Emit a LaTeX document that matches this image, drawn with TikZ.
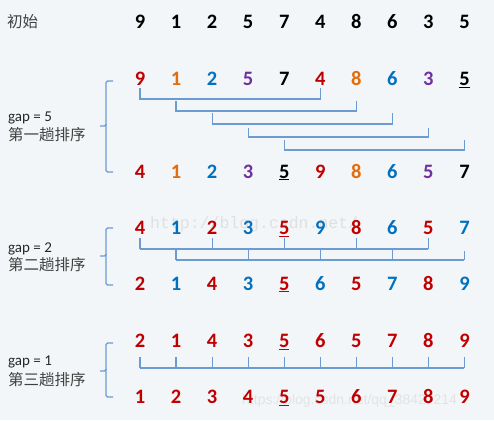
\documentclass[tikz,border=0pt]{standalone}
\usepackage{fontspec}
\setmainfont{Carlito}
\newfontfamily\cjk{Noto Sans CJK SC}
\newfontfamily\wmmono{Liberation Mono}
\newfontfamily\wmsans{Liberation Sans}
\definecolor{bg}{HTML}{F3F6F8}
\definecolor{R}{HTML}{C00000}
\definecolor{O}{HTML}{E46C0A}
\definecolor{B}{HTML}{0070C0}
\definecolor{P}{HTML}{7030A0}
\definecolor{K}{HTML}{000000}
\definecolor{brc}{HTML}{6C9AD2}
\begin{document}
\begin{tikzpicture}[x=1pt,y=-1pt,
  dig/.style={font=\fontsize{20.5}{20}\bfseries\selectfont, inner sep=0pt, anchor=base},
  lab/.style={font=\fontsize{15.5}{16}\selectfont\cjk, text=black!75, inner sep=0pt, anchor=west},
  gaplab/.style={font=\fontsize{15}{15}\selectfont, text=black!85, inner sep=0pt, anchor=base west},
  br/.style={draw=brc, line width=1.2pt},
  brace/.style={draw=brc, line width=1.2pt, rounded corners=1.5pt},
  wm/.style={inner sep=0pt, anchor=base west, text=black!12}]
\fill[bg] (0,0) rectangle (494,420);
\useasboundingbox (0,0) rectangle (494,420);

% watermarks
\node[wm, font=\wmmono\fontsize{16.5}{17}\selectfont] (wm1) at (150,228) {http://blog.csdn.net/};
\node[wm, font=\wmsans\fontsize{14}{14}\selectfont, text=white!78!gray] (wm2) at (242,404) {https://blog.csdn.net/qq\_38427214};

% row 0
\node[lab] (init) at (7,22) {初始};
\foreach \d [count=\i from 0] in {9,1,2,5,7,4,8,6,3,5}
  \node[dig] (r0c\i) at ({140+36.05*\i},28.5) {\d};

% row 1
\foreach \d/\c [count=\i from 0] in {9/R,1/O,2/B,5/P,7/K,4/R,8/O,6/B,3/P,{\underline{5}}/K}
  \node[dig,text=\c] (r1c\i) at ({140+36.05*\i},85.5) {\d};
% row 2
\foreach \d/\c [count=\i from 0] in {4/R,1/O,2/B,3/P,{\underline{5}}/K,9/R,8/O,6/B,5/P,7/K}
  \node[dig,text=\c] (r2c\i) at ({140+36.05*\i},178) {\d};
% row 3
\foreach \d/\c [count=\i from 0] in {4/R,1/B,2/R,3/B,{\underline{5}}/R,9/B,8/R,6/B,5/R,7/B}
  \node[dig,text=\c] (r3c\i) at ({140+36.05*\i},234.5) {\d};
% row 4
\foreach \d/\c [count=\i from 0] in {2/R,1/B,4/R,3/B,{\underline{5}}/R,6/B,5/R,7/B,8/R,9/B}
  \node[dig,text=\c] (r4c\i) at ({140+36.05*\i},290) {\d};
% row 5
\foreach \d [count=\i from 0] in {2,1,4,3,{\underline{5}},6,5,7,8,9}
  \node[dig,text=R] (r5c\i) at ({140+36.05*\i},347.5) {\d};
% row 6
\foreach \d [count=\i from 0] in {1,2,3,4,{\underline{5}},5,6,7,8,9}
  \node[dig,text=R] (r6c\i) at ({140+36.05*\i},403.5) {\d};

% group 1
\node[gaplab] (g1) at (8,121) {gap = 5};
\node[lab] (s1) at (8,135) {第一趟排序};
\draw[brace] (113,81) -| (106,126) -- (100,126);
\draw[brace] (106,124) |- (113,172);
\foreach \a/\b/\yt/\yl in {0/5/88/99, 1/6/101/111, 2/7/113/124, 3/8/128/137, 4/9/140/150}
  \draw[br] (r1c\a |- 0,\yt) -- (r1c\a |- 0,\yl) -- (r1c\b |- 0,\yl) -- (r1c\b |- 0,\yt);

% group 2
\node[gaplab] (g2) at (8,252) {gap = 2};
\node[lab] (s2) at (8,265) {第二趟排序};
\draw[brace] (113,228) -| (106,256) -- (100,256);
\draw[brace] (106,254) |- (113,285);
\draw[br] (r3c0 |- 0,249) -- (r3c8 |- 0,249);
\foreach \a in {0,2,4,6,8}
  \draw[br] (r3c\a |- 0,238) -- (r3c\a |- 0,249);
\draw[br] (r3c1 |- 0,260) -- (r3c9 |- 0,260);
\foreach \a in {1,3,5,7}
  \draw[br] (r3c\a |- 0,249) -- (r3c\a |- 0,260);
\draw[br] (r3c9 |- 0,251) -- (r3c9 |- 0,260);

% group 3
\node[gaplab] (g3) at (8,365) {gap = 1};
\node[lab] (s3) at (8,380) {第三趟排序};
\draw[brace] (113,343) -| (106,371) -- (100,371);
\draw[brace] (106,369) |- (113,397);
\draw[br] (r5c0 |- 0,368) -- (r5c9 |- 0,368);
\foreach \a in {0,...,9}
  \draw[br] (r5c\a |- 0,357) -- (r5c\a |- 0,368);
\end{tikzpicture}
\end{document}
